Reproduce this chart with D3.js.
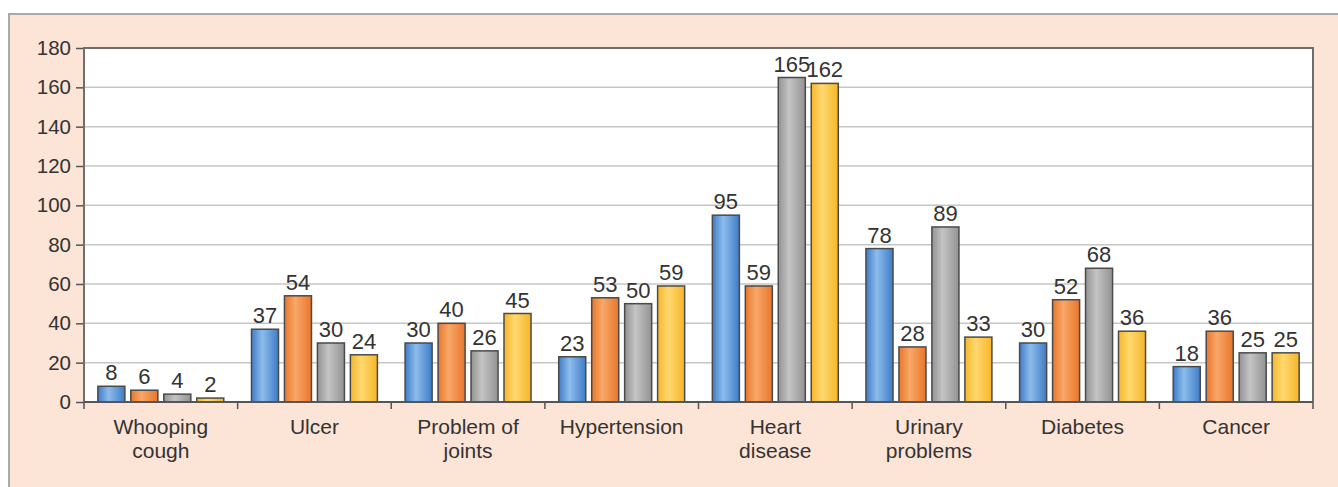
<!DOCTYPE html>
<html>
<head>
<meta charset="utf-8">
<script src="https://cdn.jsdelivr.net/npm/d3@7"></script>
<style>
  html, body { margin: 0; padding: 0; background: #fff; }
  svg { display: block; font-family: "Liberation Sans", Arial, sans-serif; }
</style>
</head>
<body>
<div id="chart"></div>
<script>
"use strict";

var categories = ["Whooping cough", "Ulcer", "Problem of joints", "Hypertension",
                  "Heart disease", "Urinary problems", "Diabetes", "Cancer"];
var categoryLines = [["Whooping", "cough"], ["Ulcer"], ["Problem of", "joints"], ["Hypertension"],
                     ["Heart", "disease"], ["Urinary", "problems"], ["Diabetes"], ["Cancer"]];
var seriesNames = ["Series 1", "Series 2", "Series 3", "Series 4"];
var series1 = [8, 37, 30, 23, 95, 78, 30, 18];
var series2 = [6, 54, 40, 53, 59, 28, 52, 36];
var series3 = [4, 30, 26, 50, 165, 89, 68, 25];
var series4 = [2, 24, 45, 59, 162, 33, 36, 25];
var yTicks = [0, 20, 40, 60, 80, 100, 120, 140, 160, 180];

var width   = 1338;
var height  = 487;
var margin  = { top: 48, right: 25, bottom: 85, left: 84 };
var colors  = [
  { edge: "#3f7cc6", mid: "#8dbcec" },
  { edge: "#e8762c", mid: "#f8a868" },
  { edge: "#939393", mid: "#c4c4c4" },
  { edge: "#f6b628", mid: "#ffd870" }
];
var allSeries = [series1, series2, series3, series4];
var svg, plot;

var init = function() {
  makeSvgArea();
  drawGrid();
  drawBars();
  drawAxes();
};

var makeSvgArea = function() {
  svg = d3.select("#chart").append("svg")
    .attr("width", width)
    .attr("height", height);

  var defs = svg.append("defs");
  colors.forEach(function(c, i) {
    var g = defs.append("linearGradient")
      .attr("id", "grad" + i)
      .attr("x1", 0).attr("x2", 1).attr("y1", 0).attr("y2", 0);
    g.append("stop").attr("offset", "0%").attr("stop-color", c.edge);
    g.append("stop").attr("offset", "40%").attr("stop-color", c.mid);
    g.append("stop").attr("offset", "100%").attr("stop-color", c.edge);
  });

  // peach panel, grey rule on top and left only
  svg.append("rect")
    .attr("x", 9).attr("y", 14)
    .attr("width", width - 9).attr("height", height - 14)
    .attr("fill", "#fce4d6");
  svg.append("path")
    .attr("d", "M9," + height + "V14H" + width)
    .attr("fill", "none")
    .attr("stroke", "#a9a9a9")
    .attr("stroke-width", 2);

  plot = svg.append("g")
    .attr("transform", "translate(" + margin.left + "," + margin.top + ")");
};

var innerW = width - margin.left - margin.right;
var innerH = height - margin.top - margin.bottom;

var x0 = d3.scaleBand().domain(categories).range([0, innerW]).padding(0);
var x1 = d3.scaleBand().domain(seriesNames).range([0, x0.bandwidth()])
  .paddingInner(0.18).paddingOuter(0.42);
var y  = d3.scaleLinear().domain([0, 180]).range([innerH, 0]);

var drawGrid = function() {
  plot.append("rect")
    .attr("width", innerW).attr("height", innerH)
    .attr("fill", "#ffffff");

  plot.selectAll(".grid")
    .data(yTicks.slice(1, -1))
    .enter().append("line")
    .attr("class", "grid")
    .attr("x1", 0).attr("x2", innerW)
    .attr("y1", function(d) { return y(d); })
    .attr("y2", function(d) { return y(d); })
    .attr("stroke", "#c6c6c6")
    .attr("stroke-width", 1.5);
};

var drawBars = function() {
  var groups = plot.selectAll(".group")
    .data(categories)
    .enter().append("g")
    .attr("class", "group")
    .attr("transform", function(d) { return "translate(" + x0(d) + ",0)"; });

  groups.each(function(cat, ci) {
    var g = d3.select(this);
    var rows = seriesNames.map(function(name, si) {
      return { name: name, si: si, value: allSeries[si][ci] };
    });

    g.selectAll("rect")
      .data(rows)
      .enter().append("rect")
      .attr("x", function(d) { return x1(d.name); })
      .attr("y", function(d) { return y(d.value); })
      .attr("width", x1.bandwidth())
      .attr("height", function(d) { return y(0) - y(d.value); })
      .attr("fill", function(d) { return "url(#grad" + d.si + ")"; })
      .attr("stroke", "#4a4a4a")
      .attr("stroke-width", 1.5);

    g.selectAll("text")
      .data(rows)
      .enter().append("text")
      .attr("x", function(d) { return x1(d.name) + x1.bandwidth() / 2; })
      .attr("y", function(d) { return y(d.value) - 6; })
      .attr("text-anchor", "middle")
      .attr("font-size", 22)
      .attr("fill", "#333")
      .text(function(d) { return d.value; });
  });
};

var drawAxes = function() {
  var yAxis = d3.axisLeft(y).tickValues(yTicks).tickSize(8).tickPadding(5);
  var ya = plot.append("g").call(yAxis);
  ya.select(".domain").remove();
  ya.selectAll("line").attr("stroke", "#555").attr("stroke-width", 1.5);
  ya.selectAll("text").attr("font-size", 20.5).attr("fill", "#333")
    .attr("font-family", "Liberation Sans, Arial, sans-serif");

  // frame: left, top, right
  plot.append("path")
    .attr("d", "M0," + innerH + "V0H" + innerW + "V" + innerH)
    .attr("fill", "none")
    .attr("stroke", "#6e6e6e")
    .attr("stroke-width", 2);

  // baseline with category ticks
  plot.append("line")
    .attr("x1", 0).attr("x2", innerW)
    .attr("y1", innerH).attr("y2", innerH)
    .attr("stroke", "#555").attr("stroke-width", 2);

  var bounds = categories.map(function(c) { return x0(c); }).concat([innerW]);
  plot.selectAll(".ctick")
    .data(bounds)
    .enter().append("line")
    .attr("class", "ctick")
    .attr("x1", function(d) { return d; })
    .attr("x2", function(d) { return d; })
    .attr("y1", innerH).attr("y2", innerH + 7)
    .attr("stroke", "#555").attr("stroke-width", 1.5);

  var labels = plot.selectAll(".clabel")
    .data(categories)
    .enter().append("text")
    .attr("class", "clabel")
    .attr("text-anchor", "middle")
    .attr("font-size", 21)
    .attr("fill", "#333")
    .attr("x", function(d) { return x0(d) + x0.bandwidth() / 2; })
    .attr("y", innerH + 32);

  labels.each(function(d, i) {
    var t = d3.select(this);
    categoryLines[i].forEach(function(line, li) {
      t.append("tspan")
        .attr("x", x0(d) + x0.bandwidth() / 2)
        .attr("dy", li === 0 ? 0 : 24)
        .text(line);
    });
  });
};

init();
</script>
</body>
</html>
